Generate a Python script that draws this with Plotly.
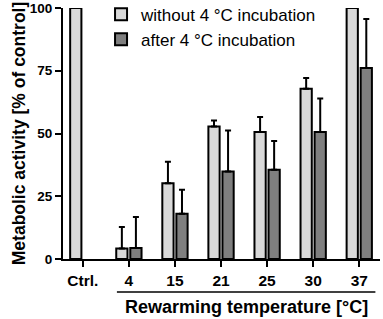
import plotly.graph_objects as go

categories = ["Ctrl.", "4", "15", "21", "25", "30", "37"]
without_vals = [100, 4.2, 30.2, 52.8, 50.6, 67.8, 100]
without_err = [0, 8.5, 8.5, 2.4, 6.0, 4.3, 0]
after_vals = [None, 4.4, 18.0, 34.9, 35.6, 50.6, 76.1]
after_err = [0, 12.3, 9.6, 16.3, 11.4, 13.3, 19.5]

FONT = "Liberation Sans, Arial, sans-serif"

fig = go.Figure()
fig.add_trace(go.Bar(
    x=list(range(len(categories))), y=without_vals, name="without 4 °C incubation",
    marker=dict(color="#d9d9d9", line=dict(color="black", width=2)),
    error_y=dict(type="data", array=without_err, arrayminus=[0]*7, symmetric=False,
                 color="black", thickness=2, width=3),
    cliponaxis=False,
))
fig.add_trace(go.Bar(
    x=list(range(len(categories))), y=after_vals, name="after 4 °C incubation",
    marker=dict(color="#7f7f7f", line=dict(color="black", width=2)),
    error_y=dict(type="data", array=after_err, arrayminus=[0]*7, symmetric=False,
                 color="black", thickness=2, width=3),
    cliponaxis=False,
))

fig.update_layout(
    width=383, height=319,
    margin=dict(l=63, r=3, t=8, b=60, autoexpand=False),
    plot_bgcolor="white", paper_bgcolor="white",
    barmode="group", bargap=0.39, bargroupgap=0.2,
    font=dict(family=FONT, color="black"),
    showlegend=True,
    legend=dict(x=0.12, y=1.045, xanchor="left", yanchor="top",
                font=dict(size=17, family=FONT), bgcolor="rgba(0,0,0,0)",
                itemwidth=30, tracegroupgap=0),
    xaxis=dict(
        range=[-0.43, 6.45], tickmode="array",
        tickvals=list(range(len(categories))), ticktext=categories,
        showline=True, linecolor="black", linewidth=2,
        ticks="outside", ticklen=6, tickwidth=2, tickcolor="black",
        tickfont=dict(size=15.5, family=FONT, weight="bold"),
        showgrid=False, zeroline=False, fixedrange=True, automargin=False,
    ),
    yaxis=dict(
        range=[0, 100], tickvals=[0, 25, 50, 75, 100],
        showline=True, linecolor="black", linewidth=2,
        ticks="outside", ticklen=6, tickwidth=2, tickcolor="black",
        tickfont=dict(size=13.5, family=FONT, weight="bold"),
        showgrid=False, zeroline=False, fixedrange=True, automargin=False,
        title=dict(text="Metabolic activity [% of control]",
                   font=dict(size=17.5, family=FONT, weight="bold"), standoff=0),
    ),
)

fig.add_shape(type="line", xref="x", yref="paper", x0=0.74, x1=6.35, y0=-0.131, y1=-0.131,
              line=dict(color="black", width=1.5))
fig.add_annotation(text="Rewarming temperature [°C]", xref="x", yref="paper",
                   x=3.55, y=-0.19, yanchor="middle", showarrow=False,
                   font=dict(size=18, family=FONT, weight="bold"))

fig.write_html("out.html", config={"displayModeBar": False},
               post_script="document.body.style.margin='0';document.body.style.padding='0';")
